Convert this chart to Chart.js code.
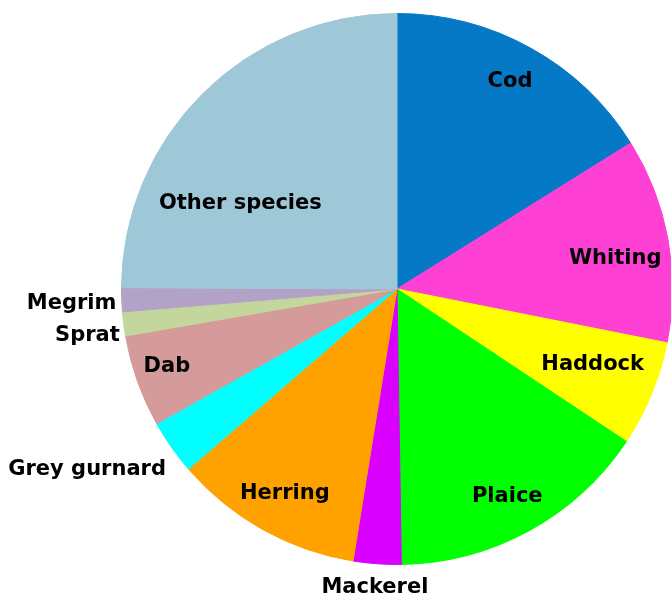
<!DOCTYPE html>
<html>
<head>
<meta charset="utf-8">
<title>Catch by species</title>
<script src="https://cdn.jsdelivr.net/npm/chart.js@4/dist/chart.umd.min.js"></script>
<style>
  html, body { margin: 0; padding: 0; overflow: hidden; background: #ffffff; }
  #wrap { width: 700px; height: 596px; }
</style>
</head>
<body>
<div id="wrap"><canvas id="pie" width="700" height="596"></canvas></div>
<script>
// Species, in clockwise order starting at twelve o'clock
const species = ['Cod', 'Whiting', 'Haddock', 'Plaice', 'Mackerel', 'Herring',
                 'Grey gurnard', 'Dab', 'Sprat', 'Megrim', 'Other species'];
// Share of the catch, percent
const shares = [16.1, 12.0, 6.2, 15.4, 2.8, 11.1, 3.2, 5.4, 1.4, 1.4, 24.9];

// Slice fills
const sliceColours = ['#0579c6', '#ff40d4', '#ffff00', '#00ff00', '#d900ff', '#ffa200',
                      '#00ffff', '#d59a9a', '#c3d69b', '#b3a2c7', '#9ec8d8'];

// Label placement: k = distance from centre as a fraction of the radius,
// t = position across the slice (0 = start edge, 1 = end edge)
const labelSpots = [
  { k: 0.862, t: 0.49 }, { k: 0.80, t: 0.55 }, { k: 0.76, t: 0.43 },
  { k: 0.85, t: 0.51 },  { k: 1.083, t: 0.51 }, { k: 0.845, t: 0.49 },
  { k: 1.30, t: 0.93 },  { k: 0.88, t: 0.56 }, { k: 1.136, t: 0.28 },
  { k: 1.182, t: 0.47 }, { k: 0.65, t: 0.32 }
];

const sliceLabels = {
  id: 'sliceLabels',
  afterDatasetsDraw(chart) {
    const ctx = chart.ctx;
    const meta = chart.getDatasetMeta(0);
    ctx.save();
    ctx.font = 'bold 21px "DejaVu Sans", sans-serif';
    ctx.fillStyle = '#000000';
    ctx.textAlign = 'center';
    ctx.textBaseline = 'middle';
    meta.data.forEach((arc, i) => {
      const p = arc.getProps(['x', 'y', 'startAngle', 'endAngle', 'outerRadius'], true);
      const spot = labelSpots[i];
      const a = p.startAngle + spot.t * (p.endAngle - p.startAngle);
      const d = spot.k * p.outerRadius;
      ctx.fillText(species[i], p.x + d * Math.cos(a), p.y + d * Math.sin(a) + 1);
    });
    ctx.restore();
  }
};

new Chart(document.getElementById('pie'), {
  type: 'pie',
  data: {
    labels: species,
    datasets: [{
      data: shares,
      backgroundColor: sliceColours,
      borderColor: sliceColours,
      borderWidth: 1
    }]
  },
  options: {
    responsive: false,
    animation: false,
    layout: { padding: { left: 121, top: 13, right: 27, bottom: 31 } },
    plugins: {
      legend: { display: false },
      tooltip: { enabled: false }
    }
  },
  plugins: [sliceLabels]
});
</script>
</body>
</html>
